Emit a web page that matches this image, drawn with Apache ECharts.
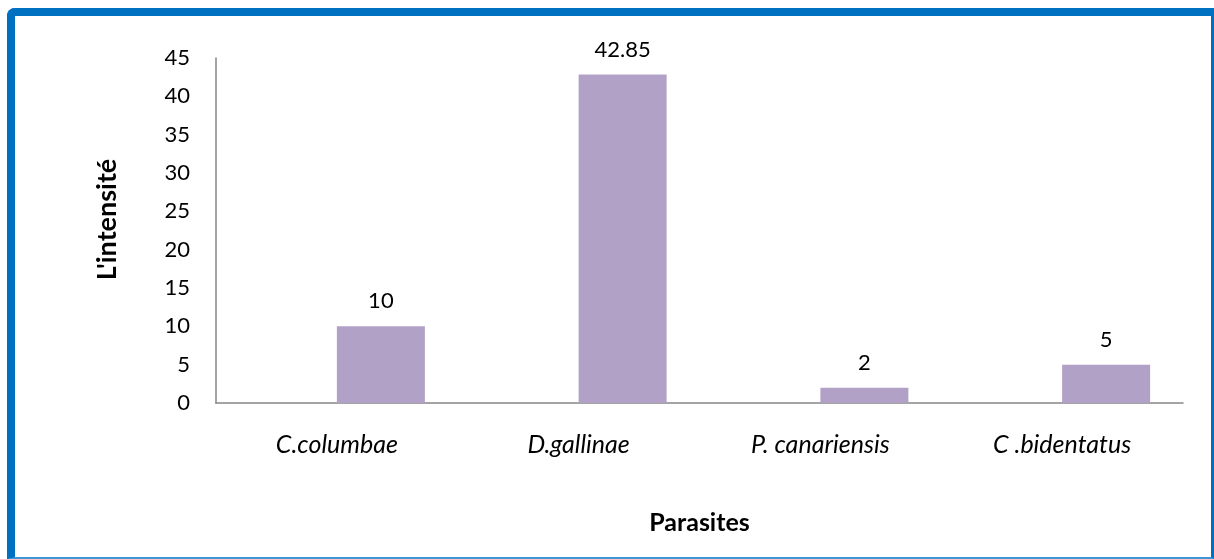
<!DOCTYPE html>
<html>
<head>
<meta charset="utf-8">
<script src="https://cdn.jsdelivr.net/npm/echarts@6/dist/echarts.min.js"></script>
<style>
html,body{margin:0;padding:0;background:#fff;}
#frame{position:absolute;left:7px;top:8px;width:1196px;height:541px;border-left:8px solid #0070C0;border-top:8px solid #0070C0;border-right:3px solid #0070C0;border-bottom:2px solid #3B97D8;border-top-left-radius:8px;box-sizing:content-box;}
#chart{position:absolute;left:0;top:0;width:1214px;height:559px;}
</style>
</head>
<body>
<div id="frame"></div>
<div id="chart"></div>
<script>
const categories = ['C.columbae', 'D.gallinae', 'P. canariensis', 'C .bidentatus'];
const emptySeries = [null, null, null, null];
const intensity = [10, 42.85, 2, 5];
const yTicks = { min: 0, max: 45, interval: 5 };

const chart = echarts.init(document.getElementById('chart'), null, { renderer: 'canvas' });
const FONT = 'Lato, "Open Sans", sans-serif';
chart.setOption({
  animation: false,
  backgroundColor: 'transparent',
  grid: { left: 216, right: 31, top: 58, bottom: 156, containLabel: false },
  xAxis: {
    type: 'category',
    data: categories,
    name: 'Parasites',
    nameLocation: 'middle',
    nameGap: 107,
    nameTextStyle: { fontFamily: FONT, fontSize: 25, fontWeight: 'bold', color: '#000' },
    axisLine: { lineStyle: { color: '#868686', width: 1.5 } },
    axisTick: { show: false },
    axisLabel: { fontFamily: FONT, fontSize: 25, fontStyle: 'italic', color: '#000', margin: 29 },
    splitLine: { show: false }
  },
  yAxis: {
    type: 'value',
    min: yTicks.min, max: yTicks.max, interval: yTicks.interval,
    name: "L'intensité",
    nameLocation: 'middle',
    nameGap: 95,
    nameRotate: 90,
    nameTextStyle: { fontFamily: FONT, fontSize: 27, fontWeight: 'bold', color: '#000', padding: [0, 0, 0, 22] },
    axisLine: { show: true, lineStyle: { color: '#868686', width: 1.5 } },
    axisTick: { show: false },
    axisLabel: { fontFamily: FONT, fontSize: 22, color: '#000', margin: 26 },
    splitLine: { show: false }
  },
  series: [
    { type: 'bar', data: emptySeries, barWidth: 88, barGap: '0%', itemStyle: { color: '#4F81BD' } },
    {
      type: 'bar', data: intensity, barWidth: 88, barGap: '0%',
      itemStyle: { color: '#B2A1C7' },
      label: { show: true, position: 'top', distance: 14, fontFamily: FONT, fontSize: 22, color: '#000' }
    }
  ]
});
</script>
</body>
</html>
